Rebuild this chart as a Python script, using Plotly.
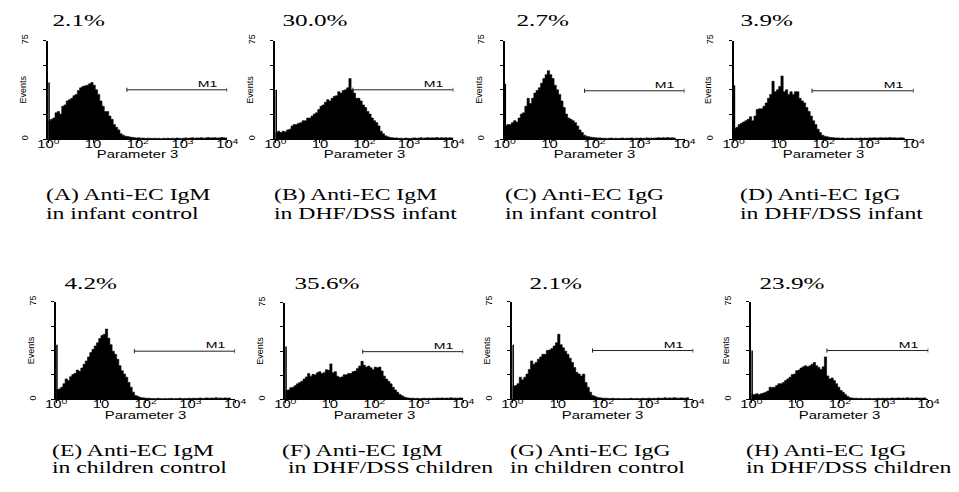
import numpy as np
import plotly.graph_objects as go

# ---------------- data ----------------
BINS_PER_DECADE = 20  # channel resolution used for the histograms (1/20 decade)

percent_labels = ["2.1%", "30.0%", "2.7%", "3.9%", "4.2%", "35.6%", "2.1%", "23.9%"]
caption_line1 = ["(A) Anti-EC IgM", "(B) Anti-EC IgM", "(C) Anti-EC IgG", "(D) Anti-EC IgG",
                 "(E) Anti-EC IgM", "(F) Anti-EC IgM", "(G) Anti-EC IgG", "(H) Anti-EC IgG"]
caption_line2 = ["in infant control", "in DHF/DSS infant", "in infant control", "in DHF/DSS infant",
                 "in children control", " in DHF/DSS children", "in children control", "in DHF/DSS children"]

x_tick_values = [1, 10, 100, 1000, 10000]
x_tick_labels = ["10<sup>0</sup>", "10", "10<sup>2</sup>", "10<sup>3</sup>", "10<sup>4</sup>"]
y_tick_values = [0, 75]
y_tick_labels = ["0", "75"]
y_minor_tick_values = [18.75, 37.5, 56.25]

# first-channel pile-up spike of each histogram
spikes = [43, 37.5, 42, 41, 42, 41, 42, 37.6]

counts_A = [14, 15, 16, 20, 21, 19, 25, 26, 29, 30, 31, 33, 34, 37, 39, 40, 40.5, 41, 42, 43,
            41, 37.5, 34, 29, 25, 21, 21, 17.5, 15, 11, 9, 7, 4, 3, 2.2, 2,
            1.6, 1.3, 1.1, 0.9, 1, 0.7, 0.8, 0.5, 0.7, 0.6, 0.4, 0.7, 0.5, 0.6, 0.3, 0.6, 0.5, 0.7,
            0.4, 0.6, 0.5, 0.8, 0.6, 0.5, 0.7, 0.9, 0.6, 0.8, 1, 0.7, 0.9, 0.8, 1.1, 0.7, 0.9, 1.2,
            0.8, 1.0, 1.1, 0.8, 0.9, 1.2, 1.0, 0.9]
counts_B = [5, 6, 5, 6, 5.5, 7, 7.5, 10, 11, 11, 12, 12.5, 14, 14, 16, 16, 17.5, 19, 20, 22.5,
            25, 26, 28, 30, 29, 31, 32.5, 33, 36, 35, 37, 37.5, 39, 46, 37.5, 35, 31, 31, 29, 26,
            24, 21, 19, 16, 14, 12.5, 10, 6, 4, 2.5, 1.8, 1.2,
            1.0, 0.8, 0.9, 0.6, 0.7, 0.5, 0.8, 0.6, 0.4, 0.7, 0.9, 0.6, 0.8, 1.0, 0.7, 0.9, 1.1, 0.8,
            1.0, 0.9, 1.2, 0.8, 1.0, 0.9, 1.1, 0.8, 1.0, 0.9]
counts_C = [10, 11, 11, 12.5, 14, 13, 16, 19, 20, 25, 31, 27, 31, 35, 37, 39, 42.5, 46, 49, 52,
            49, 46, 41, 37.5, 34, 29, 24, 19, 16, 15, 14, 12.5, 10, 7, 5, 3, 2.2, 1.8,
            1.4, 1.2, 1.0, 0.8, 0.9, 0.6, 0.7, 0.5, 0.6, 0.8, 0.5, 0.7, 0.4, 0.6, 0.8, 0.5, 0.7, 0.6,
            0.9, 0.5, 0.7, 0.6, 0.8, 0.5, 0.7, 0.9, 0.6, 0.8, 0.7, 0.9, 1.0, 0.8, 1.1, 0.9, 1.2, 0.8,
            1.0, 0.9]
counts_D = [8, 9, 11, 12, 13, 14, 15, 17, 14, 17.5, 22.5, 23, 23, 25, 27.5, 31, 34, 44, 36, 37.5,
            40, 48, 36, 37.5, 34, 36, 34, 36, 36, 31, 29, 27.5, 24, 21, 17.5, 14, 11, 7.5, 5, 3,
            2.2, 1.8,
            1.4, 1.2, 1.0, 0.8, 0.9, 0.7, 0.8, 0.5, 0.7, 0.6, 0.8, 0.5, 0.7, 0.6, 0.9, 0.6, 0.8, 0.7,
            0.9, 0.8, 1.0, 0.8, 0.9, 1.1, 0.8, 1.0, 0.9, 1.2, 0.9, 1.0, 0.8, 0.9, 1.0, 0.8]
counts_E = [7.3, 8, 9.3, 12, 15.7, 14.4, 17.4, 19, 20, 22.5, 21.5, 24, 27, 29.5, 32.6, 35.9, 38.4,
            41, 43.4, 46.7, 49, 50, 54, 47, 42, 37, 34.6, 30.8, 25.8, 22, 19.4, 17, 13, 9.3, 5.5,
            3, 2.3, 1.5,
            1.2, 1.0, 0.8, 0.9, 0.6, 0.7, 0.5, 0.8, 0.6, 0.4, 0.7, 0.5, 0.6, 0.8, 0.5, 0.7, 0.6, 0.9,
            0.5, 0.7, 0.6, 0.8, 0.6, 0.9, 0.7, 0.8, 1.0, 0.7, 0.9, 1.1, 0.8, 1.0, 0.9, 1.2, 0.9, 1.0,
            0.8, 1.1, 0.9, 1.0]
counts_F = [7, 7.3, 9, 9.3, 10.6, 12, 13, 14, 15.7, 17.4, 20, 18, 19.4, 19, 20.7, 21.5, 20, 20.7,
            23, 22.5, 27.5, 20.7, 21.5, 18, 17, 17.4, 19, 19, 20, 20, 21.5, 22, 24, 25.8, 29.5,
            26.5, 25, 25.8, 24.5, 23, 25, 24.5, 25, 22, 18, 15.7, 14, 12, 9.3, 7.3, 5.5, 3.8, 2.8,
            1.8, 1.3,
            1.0, 0.8, 0.9, 0.6, 0.8, 0.5, 0.7, 0.9, 0.6, 0.8, 0.7, 0.9, 0.8, 1.0, 0.9, 1.1, 0.8,
            1.0, 0.9, 1.2, 0.9, 1.0, 0.8, 1.1, 1.0]
counts_G = [10, 10.6, 12, 17, 15, 17, 19.4, 23, 29.5, 27, 28.3, 30.8, 32.6, 34.6, 34.6, 37.6, 38,
            39, 41, 43.4, 50, 42, 39.6, 37, 34.6, 31.6, 28.3, 24.5, 20.7, 19.4, 18, 19.4, 13, 9.3,
            5.5, 3, 2.3, 1.5,
            1.2, 1.0, 0.8, 0.9, 0.7, 0.6, 0.8, 0.5, 0.7, 0.6, 0.4, 0.7, 0.5, 0.6, 0.8, 0.5, 0.7,
            0.6, 0.5, 0.8, 0.6, 0.7, 0.9, 0.6, 0.8, 0.7, 1.0, 0.8, 0.9, 1.2, 0.8, 1.1, 0.9, 1.3,
            1.0, 0.9, 1.1, 1.0, 0.9, 1.2]
counts_H = [3.8, 3.8, 4.3, 3.8, 4.3, 4.8, 5.5, 6.3, 9.3, 9, 9.3, 10.6, 12, 12, 13, 14.4, 15.7,
            17, 19, 19.4, 22, 22.5, 24, 25, 25.8, 25, 25.8, 27, 28.3, 25.8, 24.5, 23, 25, 32.6,
            18, 15.7, 16.4, 14.4, 12, 9.3, 6.8, 5.5, 3.8, 2.3, 1.3,
            1.0, 0.8, 0.9, 0.6, 0.8, 0.5, 0.7, 0.6, 0.8, 0.5, 0.7, 0.6, 0.9, 0.7, 0.8, 0.6, 0.9,
            0.7, 1.0, 0.8, 0.9, 1.1, 0.8, 1.0, 0.9, 1.2, 0.9, 1.0, 0.8, 1.1, 1.0, 0.9, 1.0, 1.1]

all_counts = [counts_A, counts_B, counts_C, counts_D, counts_E, counts_F, counts_G, counts_H]

# M1 gate of each histogram (start, end in channel units, height in events)
m1_start = [57, 55, 60, 55, 56, 55, 59, 51]
m1_end = [9900, 9900, 9900, 9900, 9900, 9900, 9900, 9900]
m1_level = [37.5, 37.5, 36.75, 36.75, 37, 37, 37.5, 37.5]

# ---------------- layout geometry (pixels) ----------------
W, H = 959, 492
# x0, x1, y_top, y_bottom of each plotting area
boxes = [(41, 223, 35, 135), (272, 453, 35, 135), (505, 688, 35, 135), (738, 921, 35, 135),
         (49, 231, 300, 399), (282, 463, 301, 399), (513, 697, 300, 399), (756, 936, 300, 399)]
pct_pos = [(72, 15), (312, 15), (544, 15), (771, 15), (84, 282), (324, 282), (557, 282), (797, 282)]
cap_left = [37, 268, 503, 742, 43, 277, 508, 748]
cap_y_top = [(192, 210)] * 4
cap_y_bot = [(451, 468)] * 4
cap_y = cap_y_top + cap_y_bot

SERIF = "Liberation Serif, Times New Roman, Times, serif"
SANS = "Liberation Sans, Arial, Helvetica, sans-serif"

fig = go.Figure()
annotations = []

for i, (x0, x1, yt, yb) in enumerate(boxes):
    n = i + 1
    xa = "x" if n == 1 else f"x{n}"
    ya = "y" if n == 1 else f"y{n}"
    counts = all_counts[i]
    edges = 10 ** (np.arange(len(counts) + 1) / BINS_PER_DECADE)
    fig.add_trace(go.Scatter(
        x=edges, y=list(counts) + [counts[-1]], mode="lines",
        line=dict(shape="hv", color="black", width=0.6),
        fill="tozeroy", fillcolor="black", xaxis=xa, yaxis=ya,
        hoverinfo="skip", showlegend=False))
    # pile-up spike in first channel
    fig.add_trace(go.Scatter(
        x=[edges[0], edges[0]], y=[0, spikes[i]], mode="lines",
        line=dict(color="black", width=3), xaxis=xa, yaxis=ya,
        hoverinfo="skip", showlegend=False))
    # M1 gate marker
    s, e, lv = m1_start[i], m1_end[i], m1_level[i]
    cap = 1.6
    fig.add_trace(go.Scatter(
        x=[s, s, None, s, e, None, e, e],
        y=[lv - cap, lv + cap, None, lv, lv, None, lv - cap, lv + cap],
        mode="lines", line=dict(color="#222222", width=1),
        xaxis=xa, yaxis=ya, hoverinfo="skip", showlegend=False))

    xkey = "xaxis" if n == 1 else f"xaxis{n}"
    ykey = "yaxis" if n == 1 else f"yaxis{n}"
    fig.update_layout(**{
        xkey: dict(type="log", range=[0, 4], domain=[x0 / W, x1 / W], anchor=ya,
                   showline=True, linecolor="black", linewidth=1, mirror=False,
                   ticks="outside", ticklen=3, tickwidth=1, tickcolor="black",
                   tickvals=x_tick_values, ticktext=x_tick_labels,
                   tickfont=dict(family=SANS, size=10, color="black"),
                   ticklabelstandoff=-7,
                   showgrid=False, zeroline=False, fixedrange=True),
        ykey: dict(range=[0, 75], domain=[1 - yb / H, 1 - yt / H], anchor=xa,
                   showline=True, linecolor="black", linewidth=2,
                   ticks="outside", ticklen=3, tickwidth=1, tickcolor="black",
                   tickvals=y_tick_values, ticktext=y_tick_labels, tickangle=-90,
                   tickfont=dict(family=SANS, size=9, color="black"),
                   ticklabelstandoff=12,
                   minor=dict(tickmode="array", tickvals=y_minor_tick_values, ticks="outside",
                              ticklen=3, tickwidth=1, tickcolor="black", showgrid=False),
                   showgrid=False, zeroline=False, fixedrange=True),
    })

    # percentage above the panel
    px_, py_ = pct_pos[i]
    annotations.append(dict(text=percent_labels[i], x=px_ / W, y=1 - py_ / H, xref="paper", yref="paper",
                            xanchor="center", yanchor="middle", showarrow=False,
                            font=dict(family=SERIF, size=17, color="black")))
    # Events label
    annotations.append(dict(text="Events", x=(x0 - 26) / W, y=1 - (yt + yb) / 2 / H,
                            xref="paper", yref="paper", xanchor="center", yanchor="middle",
                            textangle=-90, showarrow=False,
                            font=dict(family=SANS, size=9, color="black")))
    # x-axis title
    annotations.append(dict(text="Parameter 3", x=(x0 + x1) / 2 / W, y=1 - (yb + 16) / H,
                            xref="paper", yref="paper", xanchor="center", yanchor="middle",
                            showarrow=False, font=dict(family=SANS, size=10, color="black")))
    # M1 label
    annotations.append(dict(text="M1", x=3.55, y=lv + 4.8, xref=xa, yref=ya,
                            xanchor="center", yanchor="middle", showarrow=False,
                            font=dict(family=SANS, size=9.5, color="black")))
    # captions
    for line, ly in zip((caption_line1[i], caption_line2[i]), cap_y[i]):
        annotations.append(dict(text=line, x=cap_left[i] / W, y=1 - ly / H, xref="paper", yref="paper",
                                xanchor="left", yanchor="middle", align="left", showarrow=False,
                                font=dict(family=SERIF, size=16, color="black")))

fig.update_layout(
    width=W, height=H, margin=dict(l=0, r=0, t=0, b=0),
    paper_bgcolor="white", plot_bgcolor="white",
    showlegend=False, annotations=annotations,
)

# remove the default page margin; the source image is horizontally stretched,
# so stretch upright text the same way
post = """
(function(){
  document.documentElement.style.margin = '0';
  document.body.style.margin = '0';
  document.body.style.padding = '0';
  document.body.style.overflow = 'hidden';
  var gd = document.getElementsByClassName('plotly-graph-div')[0];
  var K = 1.48;
  function rotated(el){
    while (el && el.getAttribute) {
      if (el.tagName && el.tagName.toLowerCase() === 'svg') return false;
      var t = el.getAttribute('transform');
      if (t) {
        var m = t.match(/rotate\\(\\s*(-?[0-9.]+)/);
        if (m && Math.abs(parseFloat(m[1])) > 0.01) return true;
      }
      el = el.parentNode;
    }
    return false;
  }
  var texts = gd.querySelectorAll('text');
  for (var i = 0; i < texts.length; i++) {
    var t = texts[i];
    if (rotated(t)) continue;
    var w = t.getComputedTextLength();
    if (!w) continue;
    t.setAttribute('textLength', (w * K).toFixed(2));
    t.setAttribute('lengthAdjust', 'spacingAndGlyphs');
  }
})();
"""

fig.write_html("out.html", config={"displayModeBar": False, "staticPlot": True}, post_script=post)
